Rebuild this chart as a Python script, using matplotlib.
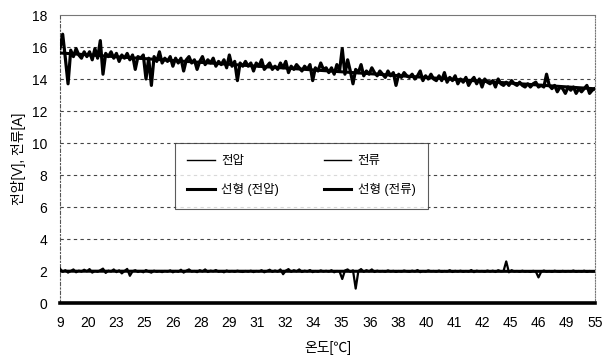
import numpy as np
import matplotlib
matplotlib.use("Agg")
import matplotlib.pyplot as plt

plt.rcParams['font.family'] = ['Liberation Sans', 'Noto Sans CJK KR', 'DejaVu Sans']

# ---- data ----
temp_labels = ["9", "20", "23", "25", "26", "28", "29", "31", "32", "34",
               "35", "36", "38", "40", "41", "42", "45", "46", "49", "55"]

voltage = [
    15.9, 16.8, 15.3, 13.7, 15.8, 15.4, 15.9, 15.5, 15.3, 15.7,
    15.4, 15.7, 15.2, 15.9, 15.3, 16.4, 14.3, 15.6, 15.4, 15.7,
    15.3, 15.6, 15.1, 15.5, 15.3, 15.6, 15.2, 15.5, 14.6, 15.4,
    15.3, 15.5, 14.0, 15.3, 13.6, 15.4, 15.1, 15.7, 15.0, 15.3,
    15.1, 15.4, 14.8, 15.3, 15.0, 15.3, 14.5, 15.2, 15.4, 15.0,
    15.2, 14.6, 15.1, 15.4, 14.9, 15.2, 15.0, 15.3, 14.8, 15.1,
    14.9, 15.2, 14.7, 15.5, 14.8, 15.1, 13.9, 15.0, 14.8, 15.1,
    14.8, 15.0, 14.5, 15.0, 14.8, 15.2, 14.6, 14.8, 15.0, 14.6,
    14.8, 14.6, 15.0, 14.7, 15.1, 14.4, 14.8, 14.6, 14.9, 14.7,
    14.5, 14.8, 14.6, 14.9, 13.9, 14.7, 14.5, 15.0, 14.6, 14.7,
    14.4, 14.7, 14.3, 14.9, 14.5, 15.9, 14.3, 15.2, 14.5, 13.7,
    14.6, 14.4, 14.9, 14.2, 14.5, 14.3, 14.7, 14.4, 14.2, 14.5,
    14.3, 14.1, 14.5, 14.2, 14.4, 13.6, 14.3, 14.1, 14.4, 14.2,
    14.1, 14.3, 14.0, 14.2, 14.5, 13.9, 14.2, 14.0, 14.3, 14.0,
    13.9, 14.2, 13.9, 14.4, 13.8, 14.1, 13.9, 14.2, 13.7, 14.0,
    13.8, 14.1, 13.6, 13.9, 14.1, 13.7, 14.0, 13.5, 14.0, 13.8,
    13.7, 13.9, 13.5, 14.0, 13.7, 13.6, 13.8, 13.6, 13.9, 13.7,
    13.6, 13.8, 13.6, 13.5, 13.7, 13.5, 13.7, 13.8, 13.5, 13.6,
    13.5, 14.3, 13.6, 13.4, 13.6, 13.2, 13.5, 13.4, 13.1, 13.5,
    13.3, 13.5, 13.1, 13.4, 13.2, 13.4, 13.6, 13.1, 13.3, 13.4,
]

current = [
    2.15, 1.95, 2.05, 1.90, 2.00, 2.10, 1.92, 2.02, 1.96, 2.08,
    1.98, 2.12, 1.90, 2.00, 1.95, 2.05, 2.15, 1.88, 2.02, 1.97,
    2.10, 1.93, 2.04, 1.85, 2.00, 2.13, 1.70, 1.98, 2.05, 1.94,
    2.00, 1.92, 2.06, 1.96, 1.90, 2.02, 1.95, 1.99, 1.93, 2.00,
    1.96, 2.04, 1.92, 2.00, 1.95, 2.08, 1.90, 2.02, 2.10, 1.96,
    2.00, 1.93, 2.05, 1.97, 2.10, 1.94, 2.02, 1.98, 2.06, 1.95,
    1.99, 1.92, 2.03, 1.96, 2.00, 1.95, 2.02, 1.97, 1.94, 2.00,
    1.96, 2.02, 1.93, 2.00, 1.97, 2.05, 1.92, 2.00, 2.08, 1.95,
    2.03, 1.96, 2.10, 1.80, 2.02, 2.12, 1.95, 2.05, 1.98, 2.10,
    1.94, 2.02, 1.97, 2.06, 1.93, 2.00, 1.95, 2.04, 1.97, 2.01,
    1.96, 2.05, 1.92, 2.00, 1.97, 1.50, 2.03, 2.10, 1.95, 2.04,
    0.90, 2.00, 2.12, 1.95, 2.05, 1.98, 2.10, 1.94, 2.02, 1.97,
    2.00, 1.95, 2.04, 1.97, 2.01, 1.94, 2.00, 1.96, 2.03, 1.98,
    1.95, 2.02, 1.97, 2.06, 1.93, 2.00, 1.96, 2.04, 1.98, 2.00,
    1.96, 2.03, 1.95, 2.00, 1.97, 2.05, 1.94, 2.01, 1.97, 2.02,
    1.95, 2.00, 1.96, 2.06, 1.93, 2.02, 1.98, 2.00, 1.95, 2.03,
    1.97, 2.02, 1.94, 2.05, 1.98, 2.00, 2.60, 1.92, 2.05, 1.97,
    2.00, 1.95, 2.02, 1.96, 1.99, 1.94, 2.01, 1.97, 1.60, 1.95,
    2.03, 1.96, 2.00, 1.94, 2.02, 1.97, 1.95, 2.01, 1.96, 2.00,
    1.97, 2.03, 1.95, 2.00, 1.96, 2.02, 1.94, 2.00, 1.97, 1.99,
]

y_ticks = [0, 2, 4, 6, 8, 10, 12, 14, 16, 18]

# ---- figure ----
fig = plt.figure(figsize=(6.04, 3.58), dpi=100)
ax = fig.add_axes([0.0993, 0.1536, 0.8857, 0.8045])

n = len(voltage)
x = np.linspace(0, len(temp_labels) - 1, n)

h_v, = ax.plot(x, voltage, color='black', lw=2.3, label='전압', zorder=3)
h_c, = ax.plot(x, current, color='black', lw=1.6, label='전류', zorder=3)

pv = np.polyfit(x, voltage, 1)
pc = np.polyfit(x, current, 1)
h_lv, = ax.plot(x, np.polyval(pv, x), color='black', lw=2.2, label='선형 (전압)', zorder=4)
h_lc, = ax.plot(x, np.polyval(pc, x), color='black', lw=2.2, label='선형 (전류)', zorder=4)

ax.set_xlim(0, len(temp_labels) - 1)
ax.set_ylim(0, 18)
ax.set_xticks(range(len(temp_labels)))
ax.set_xticklabels(temp_labels)
ax.set_yticks(y_ticks)
ax.tick_params(axis='x', length=0, pad=9, labelsize=10)
ax.tick_params(axis='y', length=0, pad=9, labelsize=10)

for yv in y_ticks[1:-1]:
    ax.axhline(yv, color='#444444', lw=0.8, ls=(0, (3, 3)), zorder=1)

ax.spines['bottom'].set_linewidth(2.6)
ax.spines['bottom'].set_color('black')
ax.spines['top'].set_color('#777777')
ax.spines['top'].set_linewidth(0.8)
ax.spines['right'].set_color('#777777')
ax.spines['right'].set_linestyle((0, (1, 1.5)))
ax.spines['right'].set_linewidth(0.8)
ax.spines['left'].set_color('#555555')
ax.spines['left'].set_linestyle((0, (3, 2, 1, 2)))
ax.spines['left'].set_linewidth(0.8)

ax.set_ylabel('전압[V], 전류[A]', fontsize=10, labelpad=4)
ax.set_xlabel('온도[℃]', fontsize=10, labelpad=8)

leg = ax.legend([h_v, h_lv, h_c, h_lc],
                ['전압', '선형 (전압)', '전류', '선형 (전류)'],
                loc='upper left', bbox_to_anchor=(0.215, 0.556), ncol=2,
                fontsize=9, frameon=True, fancybox=False, edgecolor='#333333',
                handlelength=2.2, handletextpad=0.5, columnspacing=3.6,
                labelspacing=1.25, borderpad=1.0, borderaxespad=0)
leg.get_frame().set_linewidth(0.8)
leg.get_lines()[0].set_linewidth(1.0)
leg.get_lines()[2].set_linewidth(1.0)

fig.savefig('out.png', dpi=100)
